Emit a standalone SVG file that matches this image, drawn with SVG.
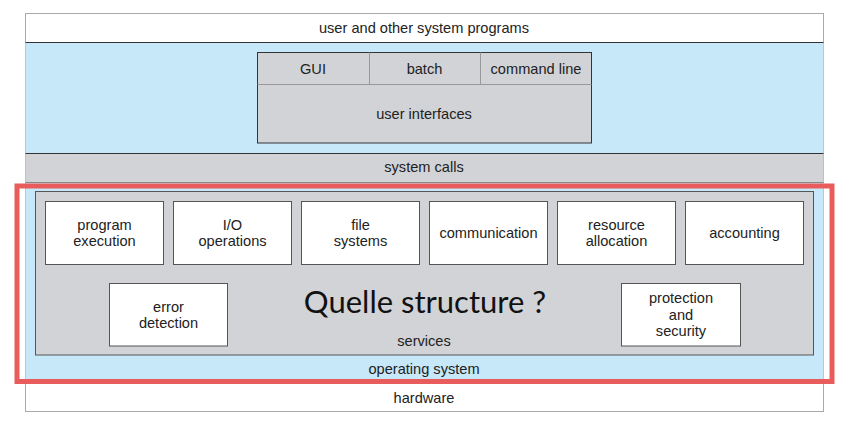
<svg xmlns="http://www.w3.org/2000/svg" width="841" height="422" viewBox="0 0 841 422">
<style>
text{font-family:"Liberation Sans",Arial,sans-serif;font-size:14.6px;fill:#222;text-anchor:middle}
.box{fill:#fff;stroke:#555;stroke-width:1}
.gray{fill:#d1d3d6}
.blue{fill:#c6e8f9}
.line{stroke:#333;stroke-width:1;fill:none}
.big{font-family:Lato,"Open Sans",sans-serif;font-size:31px;fill:#111}
</style>
<rect width="841" height="422" fill="#fff"/>
<g id="layers">
<rect x="25.5" y="13.5" width="798" height="398" fill="#fff" stroke="#aaa"/>
<rect class="blue" x="25.5" y="42" width="798" height="111"/>
<rect class="gray" x="25.5" y="153" width="798" height="29"/>
<rect class="blue" x="25.5" y="182" width="798" height="201"/>
<line class="line" x1="25.5" y1="42.5" x2="823.5" y2="42.5"/>
<line class="line" x1="25.5" y1="153.5" x2="823.5" y2="153.5"/>
<line x1="25.5" y1="182.5" x2="823.5" y2="182.5" stroke="#888"/>
<line x1="25.5" y1="383.5" x2="823.5" y2="383.5" stroke="#888"/>
<text x="424" y="33">user and other system programs</text>
<text x="424" y="172">system calls</text>
<text x="424" y="374">operating system</text>
<text x="424" y="403">hardware</text>
</g>
<g id="user-interfaces">
<rect class="gray" x="257.5" y="52.5" width="334" height="90.5" stroke="#333"/>
<line x1="257.5" y1="84.5" x2="591.5" y2="84.5" stroke="#999"/>
<line x1="369.5" y1="52.5" x2="369.5" y2="84.5" stroke="#999"/>
<line x1="480.5" y1="52.5" x2="480.5" y2="84.5" stroke="#999"/>
<text x="313" y="74">GUI</text>
<text x="424.5" y="74">batch</text>
<text x="536" y="74">command line</text>
<text x="424" y="119">user interfaces</text>
</g>
<g id="services">
<rect class="gray" x="35.5" y="191.5" width="778" height="163.5" stroke="#555"/>
<text x="424" y="346">services</text>
<text class="big" x="425" y="313">Quelle structure ?</text>
</g>
<g id="program-execution"><rect class="box" x="45.5" y="201.5" width="118" height="63"/><text x="104.5" y="230">program</text><text x="104.5" y="246">execution</text></g>
<g id="io-operations"><rect class="box" x="173.5" y="201.5" width="118" height="63"/><text x="232.5" y="230">I/O</text><text x="232.5" y="246">operations</text></g>
<g id="file-systems"><rect class="box" x="301.5" y="201.5" width="118" height="63"/><text x="360.5" y="230">file</text><text x="360.5" y="246">systems</text></g>
<g id="communication"><rect class="box" x="429.5" y="201.5" width="118" height="63"/><text x="488.5" y="238">communication</text></g>
<g id="resource-allocation"><rect class="box" x="557.5" y="201.5" width="118" height="63"/><text x="616.5" y="230">resource</text><text x="616.5" y="246">allocation</text></g>
<g id="accounting"><rect class="box" x="685.5" y="201.5" width="118" height="63"/><text x="744.5" y="238">accounting</text></g>
<g id="error-detection"><rect class="box" x="109.5" y="283.5" width="118" height="62.5"/><text x="168.5" y="312">error</text><text x="168.5" y="328">detection</text></g>
<g id="protection-security"><rect class="box" x="621.5" y="283.5" width="119" height="62.5"/><text x="681" y="303">protection</text><text x="681" y="320">and</text><text x="681" y="336">security</text></g>
<g id="highlight">
<rect x="17" y="186" width="815" height="195.5" fill="none" stroke="#e85c5c" stroke-width="5"/>
</g>
</svg>
